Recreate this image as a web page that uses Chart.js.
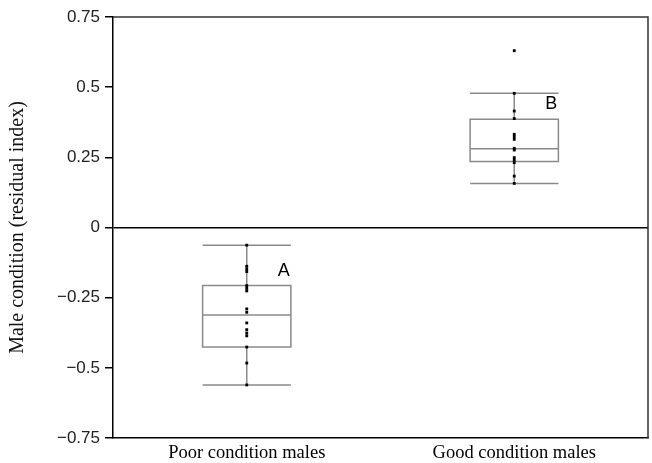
<!DOCTYPE html>
<html>
<head>
<meta charset="utf-8">
<script src="https://cdn.jsdelivr.net/npm/chart.js@4/dist/chart.umd.min.js"></script>
<style>
body { margin: 0; background: #fff; }
</style>
</head>
<body>
<canvas id="grafica" width="652" height="463"></canvas>
<script>
// categorias y valores
const grupos = ["Poor condition males", "Good condition males"];

const puntosPoor = [-0.063, -0.138, -0.148, -0.157, -0.207, -0.217, -0.226, -0.29, -0.302, -0.34, -0.364, -0.376, -0.386, -0.426, -0.483, -0.561];
const puntosGood = [0.63, 0.478, 0.415, 0.388, 0.332, 0.324, 0.314, 0.282, 0.276, 0.249, 0.24, 0.231, 0.183, 0.157];

// resumen de cada caja: bigote inferior, q1, mediana, q3, bigote superior
const bigoteBajo = [-0.561, 0.157];
const cuartil1 = [-0.426, 0.235];
const mediana = [-0.312, 0.281];
const cuartil3 = [-0.207, 0.386];
const bigoteAlto = [-0.063, 0.478];

const letras = ["A", "B"];
const letrasY = [-0.155, 0.44];

const ticksY = [-0.75, -0.5, -0.25, 0, 0.25, 0.5, 0.75];
const etiquetasY = ["\u22120.75", "\u22120.5", "\u22120.25", "0", "0.25", "0.5", "0.75"];

const cajas = {
id: "cajas",
beforeDatasetsDraw(chart) {
const ctx = chart.ctx;
const x = chart.scales.x;
const y = chart.scales.y;
const ancho = x.width / grupos.length * 0.33;
ctx.save();
ctx.strokeStyle = "#8a8a8a";
ctx.lineWidth = 1.5;
grupos.forEach((g, i) => {
const cx = x.getPixelForValue(i);
const l = cx - ancho / 2;
const r = cx + ancho / 2;
const yl = y.getPixelForValue(bigoteBajo[i]);
const y1 = y.getPixelForValue(cuartil1[i]);
const ym = y.getPixelForValue(mediana[i]);
const y3 = y.getPixelForValue(cuartil3[i]);
const yh = y.getPixelForValue(bigoteAlto[i]);
ctx.beginPath();
ctx.rect(l, y3, r - l, y1 - y3);
ctx.moveTo(l, ym); ctx.lineTo(r, ym);
ctx.moveTo(l, yh); ctx.lineTo(r, yh);
ctx.moveTo(l, yl); ctx.lineTo(r, yl);
ctx.moveTo(cx, yh); ctx.lineTo(cx, y3);
ctx.moveTo(cx, y1); ctx.lineTo(cx, yl);
ctx.stroke();
ctx.fillStyle = "#000";
ctx.font = "18px 'Liberation Sans', Arial, sans-serif";
ctx.textAlign = "center";
ctx.textBaseline = "middle";
ctx.fillText(letras[i], cx + ancho * 0.42, y.getPixelForValue(letrasY[i]));
});
ctx.restore();
},
afterDraw(chart) {
const ctx = chart.ctx;
const a = chart.chartArea;
ctx.save();
ctx.strokeStyle = "#333";
ctx.lineWidth = 1.5;
ctx.beginPath();
ctx.moveTo(a.left, a.top);
ctx.lineTo(a.right, a.top);
ctx.lineTo(a.right, a.bottom);
ctx.stroke();
ctx.restore();
}
};

const puntos = [
...puntosPoor.map(v => ({ x: grupos[0], y: v })),
...puntosGood.map(v => ({ x: grupos[1], y: v }))
];

new Chart(document.getElementById("grafica"), {
type: "line",
data: {
labels: grupos,
datasets: [{
data: puntos,
showLine: false,
pointStyle: "rect",
pointRadius: 2,
pointBackgroundColor: "#000",
pointBorderWidth: 0
}]
},
options: {
responsive: false,
animation: false,
devicePixelRatio: 1,
layout: { padding: { top: 17, right: 2, left: 0, bottom: 0 } },
plugins: { legend: { display: false }, tooltip: { enabled: false } },
scales: {
x: {
offset: true,
grid: { display: true, drawTicks: false, color: "transparent" },
border: { display: true, color: "#000", width: 1.5 },
ticks: {
color: "#000",
padding: 4,
font: { family: "'Liberation Serif', 'Times New Roman', serif", size: 18.5 }
},
afterFit(s) { s.height = 25; }
},
y: {
min: -0.75,
max: 0.75,
afterBuildTicks(s) { s.ticks = ticksY.map(v => ({ value: v })); },
grid: {
color: c => (c.tick && c.tick.value === 0 ? "#000" : "transparent"),
lineWidth: 1.5,
tickColor: "#000",
tickLength: 8
},
border: { display: true, color: "#000", width: 1.5 },
ticks: {
color: "#222",
padding: 5,
font: { family: "'Liberation Sans', Arial, sans-serif", size: 17 },
callback: v => etiquetasY[ticksY.indexOf(v)]
},
title: {
display: true,
text: "Male condition (residual index)",
color: "#111",
padding: { top: 6, bottom: 0 },
font: { family: "'Liberation Serif', 'Times New Roman', serif", size: 20 }
},
afterFit(s) { s.width = 113; }
}
}
},
plugins: [cajas]
});
</script>
</body>
</html>
